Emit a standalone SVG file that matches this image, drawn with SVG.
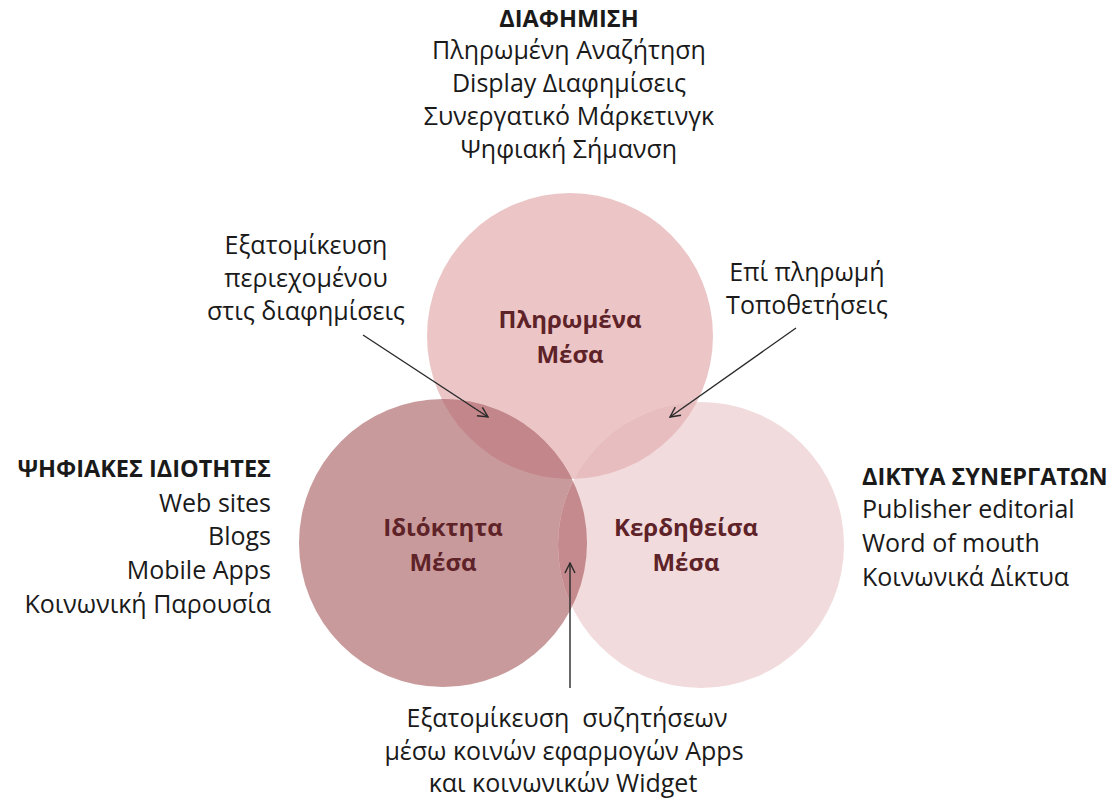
<svg xmlns="http://www.w3.org/2000/svg" width="1113" height="807" viewBox="0 0 1113 807">
  <style>
    .t { font-family: "Open Sans", "Noto Sans", "DejaVu Sans", sans-serif; font-size: 25px; fill: #1a1a1a; }
    .h { font-weight: bold; font-size: 23.5px; }
    .m { text-anchor: middle; }
    .e { text-anchor: end; }
    .lbl { font-family: "Open Sans", "Noto Sans", "DejaVu Sans", sans-serif; font-size: 24px; font-weight: bold; fill: #5e2328; text-anchor: middle; }
    .conn { stroke: #2a2a2a; stroke-width: 1.4; fill: none; marker-end: url(#arr); }
  </style>
  <defs>
    <marker id="arr" viewBox="0 0 12 12" refX="11" refY="6" markerWidth="12" markerHeight="12" markerUnits="userSpaceOnUse" orient="auto">
      <path d="M1,1 L11,6 L1,11" fill="none" stroke="#2a2a2a" stroke-width="1.4"/>
    </marker>
    <clipPath id="cTop"><circle cx="570" cy="336" r="143"/></clipPath>
    <clipPath id="cLeft"><circle cx="443" cy="543" r="144"/></clipPath>
    <clipPath id="cRight"><circle cx="701" cy="545" r="143"/></clipPath>
  </defs>
  <rect width="1113" height="807" fill="#ffffff"/>

  <g id="node-paid">
    <circle cx="570" cy="336" r="143" fill="#ecc6c7"/>
  </g>
  <g id="node-owned">
    <circle cx="443" cy="543" r="144" fill="#c99a9b"/>
  </g>
  <g id="node-earned">
    <circle cx="701" cy="545" r="143" fill="#f2dbdc"/>
  </g>
  <g id="overlaps">
    <g clip-path="url(#cTop)"><circle cx="701" cy="545" r="143" fill="#e7bdbf"/></g>
    <g clip-path="url(#cLeft)"><circle cx="701" cy="545" r="143" fill="#c48a8d"/></g>
    <g clip-path="url(#cTop)"><circle cx="443" cy="543" r="144" fill="#c3868a"/></g>
  </g>

  <g id="labels-circles">
    <text class="lbl" x="570" y="328">Πληρωμένα</text>
    <text class="lbl" x="570" y="363">Μέσα</text>
    <text class="lbl" x="443" y="536">Ιδιόκτητα</text>
    <text class="lbl" x="443" y="571">Μέσα</text>
    <text class="lbl" x="686" y="536">Κερδηθείσα</text>
    <text class="lbl" x="686" y="571">Μέσα</text>
  </g>

  <g id="node-advertising">
    <text class="t h m" x="569" y="27">ΔΙΑΦΗΜΙΣΗ</text>
    <text class="t m" x="569" y="59">Πληρωμένη Αναζήτηση</text>
    <text class="t m" x="569" y="92">Display Διαφημίσεις</text>
    <text class="t m" x="569" y="125">Συνεργατικό Μάρκετινγκ</text>
    <text class="t m" x="569" y="158">Ψηφιακή Σήμανση</text>
  </g>

  <g id="node-digital">
    <text class="t h e" x="271" y="477">ΨΗΦΙΑΚΕΣ ΙΔΙΟΤΗΤΕΣ</text>
    <text class="t e" x="271" y="512">Web sites</text>
    <text class="t e" x="271" y="545">Blogs</text>
    <text class="t e" x="271" y="579">Mobile Apps</text>
    <text class="t e" x="271" y="613">Κοινωνική Παρουσία</text>
  </g>

  <g id="node-partners">
    <text class="t h" x="862" y="485">ΔΙΚΤΥΑ ΣΥΝΕΡΓΑΤΩΝ</text>
    <text class="t" x="862" y="518">Publisher editorial</text>
    <text class="t" x="862" y="552">Word of mouth</text>
    <text class="t" x="862" y="586">Κοινωνικά Δίκτυα</text>
  </g>

  <g id="node-content">
    <text class="t m" x="306" y="254">Εξατομίκευση</text>
    <text class="t m" x="306" y="287">περιεχομένου</text>
    <text class="t m" x="306" y="320">στις διαφημίσεις</text>
  </g>

  <g id="node-placements">
    <text class="t m" x="807" y="281">Επί πληρωμή</text>
    <text class="t m" x="807" y="314">Τοποθετήσεις</text>
  </g>

  <g id="node-conversations">
    <text class="t m" x="567" y="727" xml:space="preserve">Εξατομίκευση  συζητήσεων</text>
    <text class="t m" x="564" y="760">μέσω κοινών εφαρμογών Apps</text>
    <text class="t m" x="563" y="792">και κοινωνικών Widget</text>
  </g>

  <g id="connectors">
    <line class="conn" x1="363" y1="335" x2="488" y2="417"/>
    <line class="conn" x1="796" y1="328" x2="670" y2="417"/>
    <line class="conn" x1="570" y1="688" x2="570" y2="563"/>
  </g>
</svg>
